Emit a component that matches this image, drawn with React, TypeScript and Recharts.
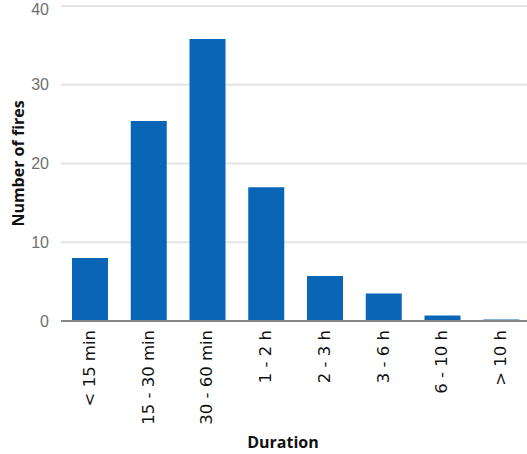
import React from "react";
import { BarChart, Bar, XAxis, YAxis, CartesianGrid } from "recharts";

const durations = ["< 15 min", "15 - 30 min", "30 - 60 min", "1 - 2 h", "2 - 3 h", "3 - 6 h", "6 - 10 h", "> 10 h"];
const fires = [8, 25.4, 35.8, 17, 5.7, 3.5, 0.7, 0.2];
const yTicks = [0, 10, 20, 30, 40];

const data = durations.map((name, i) => ({ name, fires: fires[i] }));

const BLUE = "#0966b6";

function DurationTick({ x, y, payload }: any) {
  return (
    <text
      x={x}
      y={y}
      dx={-1}
      dy={-1}
      transform={`rotate(-90, ${x}, ${y})`}
      textAnchor="end"
      dominantBaseline="central"
      fontFamily="DejaVu Sans"
      fontSize={16.5}
      fill="#111"
    >
      {payload.value}
    </text>
  );
}

export default function App() {
  return (
    <div style={{ position: "fixed", top: 0, left: 0, width: 527, height: 454, overflow: "hidden", background: "#fff" }}>
      <BarChart width={531} height={454} data={data} margin={{ top: 6, right: 0, bottom: 0, left: 0 }}>
        <CartesianGrid vertical={false} stroke="#e4e4e4" strokeWidth={2} />
        <XAxis
          dataKey="name"
          height={133}
          interval={0}
          tickLine={false}
          axisLine={{ stroke: "#888", strokeWidth: 2 }}
          tick={<DurationTick />}
          label={{
            value: "Duration",
            position: "insideBottom",
            offset: 6,
            dx: -13,
            fontFamily: "Open Sans",
            fontWeight: "bold",
            fontSize: 16,
            fill: "#111",
          }}
        />
        <YAxis
          width={61}
          domain={[0, 40]}
          ticks={yTicks}
          tickLine={false}
          axisLine={false}
          tickMargin={6}
          tick={{ fontFamily: "Liberation Sans", fontSize: 16, fill: "#707070" }}
          label={{
            value: "Number of fires",
            angle: -90,
            position: "center",
            dx: -12,
            fontFamily: "Open Sans",
            fontWeight: "bold",
            fontSize: 16,
            fill: "#111",
          }}
        />
        <Bar dataKey="fires" fill={BLUE} barSize={36} isAnimationActive={false} />
      </BarChart>
    </div>
  );
}
